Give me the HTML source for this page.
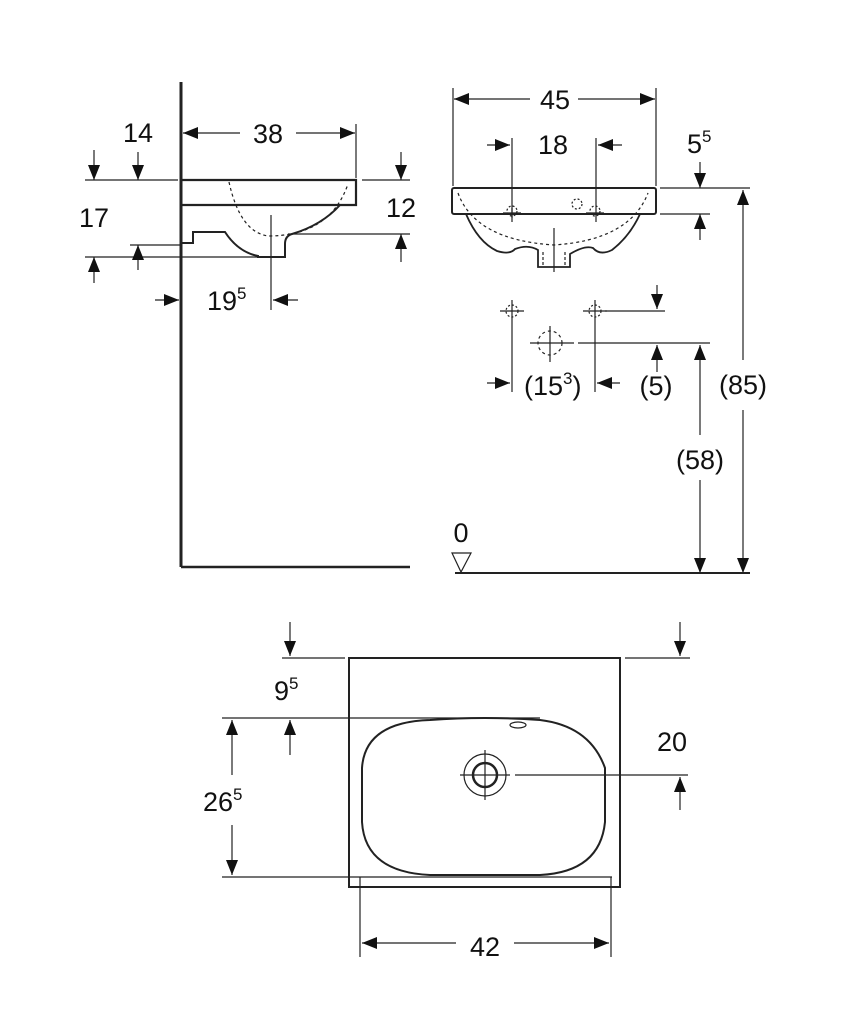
<!DOCTYPE html>
<html><head><meta charset="utf-8"><style>
html,body{margin:0;padding:0;background:#fff}
svg{display:block}
text{font-family:"Liberation Sans",sans-serif;font-size:27px;fill:#111}
.s{font-size:17px}
</style></head><body>
<svg width="857" height="1024" viewBox="0 0 857 1024" xmlns="http://www.w3.org/2000/svg">
<defs>
<marker id="a" markerUnits="userSpaceOnUse" markerWidth="16" markerHeight="12" refX="15" refY="6" orient="auto"><path d="M0,0 L15,6 L0,12 z" fill="#111"/></marker>
</defs>
<g stroke="#222" stroke-width="1.2" fill="none">
<line x1="181" y1="82" x2="181" y2="567" stroke-width="3"/>
<line x1="181" y1="567" x2="410" y2="567" stroke-width="2.5"/>
<line x1="356" y1="124" x2="356" y2="178"/>
<line x1="240" y1="133" x2="183" y2="133" marker-end="url(#a)"/>
<line x1="296" y1="133" x2="355" y2="133" marker-end="url(#a)"/>
<line x1="85" y1="180" x2="178" y2="180"/>
<line x1="362" y1="180" x2="410" y2="180"/>
<path d="M181 180 H356 V205 H181" stroke-width="2.2"/>
<path d="M181 243 H193 V232 H225 Q238 252 258 256 L258 257 H285 V244 Q285 236 292 234 Q322 225 340 205" stroke-width="2"/>
<path d="M229 182 Q240 232 268 236 Q330 236 348 184" stroke-dasharray="3,3"/>
<line x1="271" y1="215" x2="271" y2="310"/>
<line x1="130" y1="245" x2="180" y2="245"/>
<line x1="85" y1="257" x2="258" y2="257"/>
<line x1="94" y1="150" x2="94" y2="180" marker-end="url(#a)"/>
<line x1="138" y1="152" x2="138" y2="180" marker-end="url(#a)"/>
<line x1="94" y1="283" x2="94" y2="257" marker-end="url(#a)"/>
<line x1="138" y1="270" x2="138" y2="245" marker-end="url(#a)"/>
<line x1="288" y1="234" x2="410" y2="234"/>
<line x1="401" y1="152" x2="401" y2="180" marker-end="url(#a)"/>
<line x1="401" y1="262" x2="401" y2="234" marker-end="url(#a)"/>
<line x1="155" y1="300" x2="179" y2="300" marker-end="url(#a)"/>
<line x1="298" y1="300" x2="273" y2="300" marker-end="url(#a)"/>
<line x1="453" y1="88" x2="453" y2="186"/>
<line x1="656" y1="88" x2="656" y2="186"/>
<line x1="530" y1="99" x2="454" y2="99" marker-end="url(#a)"/>
<line x1="578" y1="99" x2="655" y2="99" marker-end="url(#a)"/>
<line x1="512" y1="138" x2="512" y2="222"/>
<line x1="596" y1="138" x2="596" y2="222"/>
<line x1="487" y1="145" x2="510" y2="145" marker-end="url(#a)"/>
<line x1="622" y1="145" x2="598" y2="145" marker-end="url(#a)"/>
<rect x="452" y="188" width="204" height="26" rx="2" stroke-width="2"/>
<path d="M466 214 Q478 242 497 251 Q510 255 515 249 Q528 244 538 250 V267 H570 V254 Q585 245 593 248 Q600 256 612 250 Q630 236 640 214" stroke-width="1.8"/>
<path d="M458 193 Q475 240 554 245 Q630 240 648 193" stroke-dasharray="3,3"/>
<path d="M543 252 V267 M565 252 V267" stroke-dasharray="3,2"/>
<line x1="554" y1="228" x2="554" y2="272"/>
<circle cx="577" cy="204" r="5" stroke-dasharray="2,2"/>
<path d="M503 213 H521 M512 208 V218 M586 213 H604" />
<circle cx="512" cy="211" r="5" stroke-dasharray="2,2"/><circle cx="595" cy="211" r="5" stroke-dasharray="2,2"/>
<line x1="660" y1="188" x2="750" y2="188"/>
<line x1="660" y1="214" x2="710" y2="214"/>
<line x1="700" y1="162" x2="700" y2="188" marker-end="url(#a)"/>
<line x1="700" y1="240" x2="700" y2="214" marker-end="url(#a)"/>
<line x1="743" y1="360" x2="743" y2="190" marker-end="url(#a)"/>
<line x1="743" y1="410" x2="743" y2="573" marker-end="url(#a)"/>
<line x1="700" y1="435" x2="700" y2="345" marker-end="url(#a)"/>
<line x1="700" y1="480" x2="700" y2="573" marker-end="url(#a)"/>
<line x1="455" y1="573" x2="750" y2="573" stroke-width="2"/>
<path d="M452 553 H471 L461 572 z"/>
<circle cx="512" cy="311" r="6" stroke-dasharray="2,2"/><circle cx="595" cy="311" r="6" stroke-dasharray="2,2"/>
<path d="M500 311 H524 M512 300 V392 M583 311 H607 M595 300 V392"/>
<circle cx="550" cy="343" r="12" stroke-dasharray="3,3"/>
<path d="M530 343 H574 M550 326 V362"/>
<line x1="578" y1="343" x2="710" y2="343"/>
<line x1="605" y1="311" x2="665" y2="311"/>
<line x1="657" y1="285" x2="657" y2="309" marker-end="url(#a)"/>
<line x1="657" y1="372" x2="657" y2="345" marker-end="url(#a)"/>
<line x1="487" y1="383" x2="510" y2="383" marker-end="url(#a)"/>
<line x1="620" y1="383" x2="597" y2="383" marker-end="url(#a)"/>
<rect x="349" y="658" width="271" height="229" stroke-width="2"/>
<line x1="282" y1="658" x2="345" y2="658"/>
<line x1="625" y1="658" x2="690" y2="658"/>
<line x1="290" y1="622" x2="290" y2="656" marker-end="url(#a)"/>
<line x1="680" y1="622" x2="680" y2="656" marker-end="url(#a)"/>
<line x1="222" y1="718" x2="540" y2="718"/>
<line x1="290" y1="755" x2="290" y2="720" marker-end="url(#a)"/>
<line x1="232" y1="775" x2="232" y2="720" marker-end="url(#a)"/>
<line x1="232" y1="825" x2="232" y2="875" marker-end="url(#a)"/>
<line x1="222" y1="877" x2="612" y2="877"/>
<path d="M430 720 Q485 716 540 720 Q590 726 605 768 V822 Q600 872 540 875 H430 Q365 872 362 822 V768 Q365 722 430 720 z" stroke-width="2"/>
<ellipse cx="518" cy="725" rx="8" ry="3"/>
<circle cx="485" cy="775" r="12" stroke-width="2.5"/>
<circle cx="485" cy="775" r="21"/>
<path d="M460 775 H510 M485 750 V800"/>
<line x1="515" y1="775" x2="688" y2="775"/>
<line x1="680" y1="810" x2="680" y2="777" marker-end="url(#a)"/>
<line x1="360" y1="877" x2="360" y2="957"/>
<line x1="611" y1="877" x2="611" y2="957"/>
<line x1="456" y1="943" x2="362" y2="943" marker-end="url(#a)"/>
<line x1="514" y1="943" x2="609" y2="943" marker-end="url(#a)"/>
</g>
<text x="268" y="143" text-anchor="middle">38</text>
<text x="138" y="142" text-anchor="middle">14</text>
<text x="94" y="227" text-anchor="middle">17</text>
<text x="401" y="217" text-anchor="middle">12</text>
<text x="207" y="310">19<tspan class="s" dy="-11">5</tspan></text>
<text x="555" y="109" text-anchor="middle">45</text>
<text x="553" y="154" text-anchor="middle">18</text>
<text x="687" y="153">5<tspan class="s" dy="-11">5</tspan></text>
<rect x="718" y="368" width="52" height="32" fill="#fff"/>
<text x="743" y="394" text-anchor="middle">(85)</text>
<rect x="674" y="443" width="52" height="32" fill="#fff"/>
<text x="700" y="469" text-anchor="middle">(58)</text>
<text x="461" y="542" text-anchor="middle">0</text>
<text x="524" y="395">(15<tspan class="s" dy="-11">3</tspan><tspan dy="11">)</tspan></text>
<text x="656" y="395" text-anchor="middle">(5)</text>
<text x="274" y="700">9<tspan class="s" dy="-11">5</tspan></text>
<text x="203" y="811">26<tspan class="s" dy="-11">5</tspan></text>
<text x="672" y="751" text-anchor="middle">20</text>
<text x="485" y="956" text-anchor="middle">42</text>
</svg>
</body></html>
